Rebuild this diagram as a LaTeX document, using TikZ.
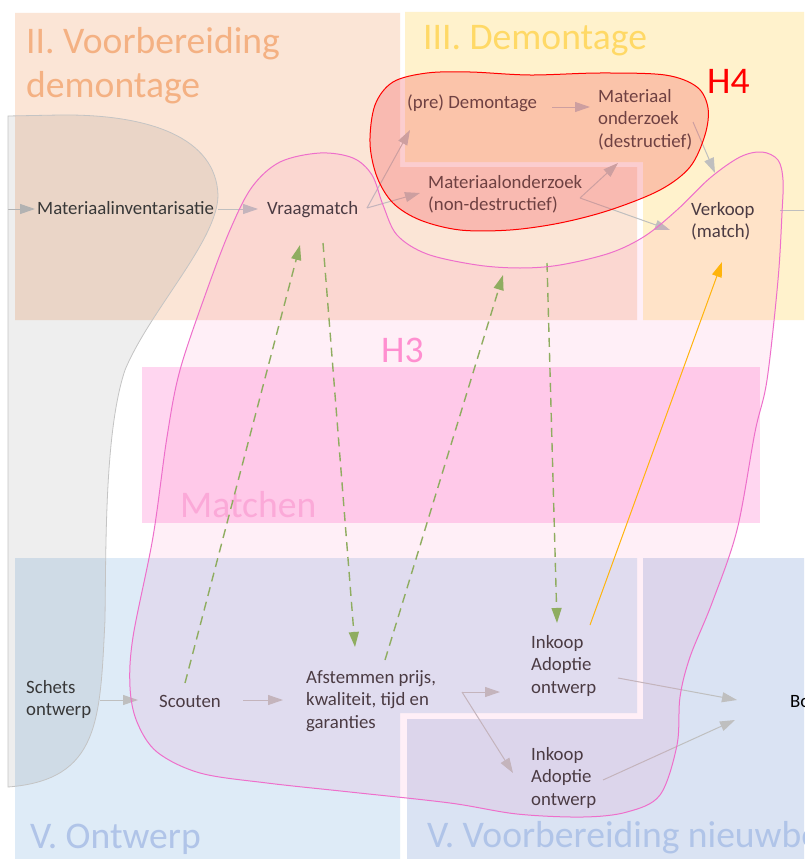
\documentclass[tikz,border=0pt]{standalone}
\usepackage{fontspec}
\setmainfont{Carlito}
\usetikzlibrary{arrows.meta}
\definecolor{regII}{HTML}{FBE5D6}
\definecolor{regIII}{HTML}{FFF2CC}
\definecolor{regVa}{HTML}{DEEBF7}
\definecolor{regVb}{HTML}{DAE3F3}
\definecolor{hII}{HTML}{F4B183}
\definecolor{hIII}{HTML}{FFD966}
\definecolor{hV}{HTML}{B0C4E8}
\definecolor{matchrect}{HTML}{FFD6F0}
\definecolor{matchtxt}{HTML}{FBB4DE}
\definecolor{hthree}{HTML}{FF8FD0}
\definecolor{txt}{HTML}{3C3C3C}
\definecolor{garrow}{HTML}{BFBFBF}
\definecolor{gdash}{HTML}{86B85C}
\definecolor{oarrow}{HTML}{FFC000}
\definecolor{pinkline}{HTML}{EE6FCB}
\definecolor{pinkfill}{HTML}{FF3399}
\definecolor{redfill}{RGB}{244,78,83}
\definecolor{greyline}{HTML}{C4C4C4}
\newcommand\myBody{\fontsize{18.8}{22.7}\selectfont}
\newcommand\myHead{\fontsize{37.6}{44}\selectfont}
\tikzset{
  lbl/.style={anchor=base west, inner sep=0pt, text=txt, font=\myBody, align=left},
  head/.style={anchor=base west, inner sep=0pt, font=\myHead, align=left},
  ga/.style={draw=garrow, line width=1pt, -{Triangle[length=15pt,width=10pt]}},
  gd/.style={draw=gdash, line width=1.4pt, dash pattern=on 9pt off 6pt, -{Triangle[length=15pt,width=10pt]}},
  oa/.style={draw=oarrow, line width=1pt, -{Triangle[length=15pt,width=10pt]}},
}
\begin{document}
\begin{tikzpicture}[x=1pt,y=-1pt]
\useasboundingbox (0,0) rectangle (804,859);
\clip (0,0) rectangle (804,859);
\fill[white] (0,0) rectangle (804,859);
% regions
\fill[regII] (15,13) -- (400,13) -- (400,167) -- (637,167) -- (637,320) -- (15,320) -- cycle;
\fill[regIII] (405,12) -- (804,12) -- (804,320) -- (643,320) -- (643,162) -- (405,162) -- cycle;
\fill[regVa] (15,558) -- (637,558) -- (637,713) -- (400,713) -- (400,859) -- (15,859) -- cycle;
\fill[regVb] (643,558) -- (804,558) -- (804,859) -- (407,859) -- (407,719) -- (643,719) -- cycle;
\fill[matchrect] (142,367) rectangle (760,523);
% headings
\node[head, text=hII] (hII) at (26,97) {II. Voorbereiding\\demontage};
\node[head, text=hIII] (hIII) at (423,49) {III. Demontage};
\node[head, text=hV] (hVa) at (30,848) {V. Ontwerp};
\node[head, text=hV] (hVb) at (427,847) {V. Voorbereiding nieuwbouw};
\node[head, text=matchtxt] (mt) at (180,517) {Matchen};
% text nodes (base = baseline of last line)
\node[lbl] (mi) at (37,214) {Materiaalinventarisatie};
\node[lbl] (vm) at (267,214) {Vraagmatch};
\node[lbl] (pd) at (407,108) {(pre) Demontage};
\node[lbl] (md) at (598,147.4) {Materiaal\\onderzoek\\(destructief)};
\node[lbl] (mn) at (428,210.7) {Materiaalonderzoek\\(non-destructief)};
\node[lbl] (vk) at (691,237.7) {Verkoop\\(match)};
\node[lbl] (so) at (26,715.7) {Schets\\ontwerp};
\node[lbl] (sc) at (159,707) {Scouten};
\node[lbl] (af) at (306,728.4) {Afstemmen prijs,\\kwaliteit, tijd en\\garanties};
\node[lbl] (ika) at (531,693.4) {Inkoop\\Adoptie\\ontwerp};
\node[lbl] (ikb) at (531,805.4) {Inkoop\\Adoptie\\ontwerp};
\node[lbl, text=black] (bo) at (790,707) {Bo};
\coordinate (inL) at (8,209);
\coordinate (outR) at (840,210);
% grey arrows
\draw[ga] (inL) -- ([shift={(-2,-5)}]mi.base west);
\draw[ga] ([shift={(181,-5)}]mi.base west) -- ([shift={(-9,-5)}]vm.base west);
\draw[ga] ([shift={(100,-6)}]vm.base west) -- ([shift={(3,22)}]pd.base west);
\draw[ga] ([shift={(100,-6)}]vm.base west) -- ([shift={(-8,-17.7)}]mn.base west);
\draw[ga] ([shift={(145,-1)}]pd.base west) -- ([shift={(-8,-40.4)}]md.base west);
\draw[ga] ([shift={(152,-12.7)}]mn.base west) -- ([shift={(20,15.6)}]md.base west);
\draw[ga] ([shift={(152,-12.7)}]mn.base west) -- ([shift={(-21,-7.7)}]vk.base west);
\draw[ga] ([shift={(95,-25.4)}]md.base west) -- ([shift={(24,-64.7)}]vk.base west);
\draw[ga] ([shift={(89,-27.7)}]vk.base west) -- (outR);
\draw[ga] ([shift={(74,-15.7)}]so.base west) -- ([shift={(-21,-7)}]sc.base west);
\draw[ga] ([shift={(84,-7)}]sc.base west) -- ([shift={(-23,-28.4)}]af.base west);
\draw[ga] ([shift={(156,-36.4)}]af.base west) -- ([shift={(-31,-1.4)}]ika.base west);
\draw[ga] ([shift={(156,-36.4)}]af.base west) -- ([shift={(-18,-32.4)}]ikb.base west);
\draw[ga] ([shift={(87,-15.4)}]ika.base west) -- ([shift={(-53,-7)}]bo.base west);
\draw[ga] ([shift={(72,-25.4)}]ikb.base west) -- ([shift={(-55,13)}]bo.base west);
% green dashed arrows
\draw[gd] ([shift={(26,-24)}]sc.base west) -- ([shift={(33,31)}]vm.base west);
\draw[gd] ([shift={(56,29)}]vm.base west) -- ([shift={(49,-81.4)}]af.base west);
\draw[gd] ([shift={(79,-68.4)}]af.base west) -- ([shift={(75,64.3)}]mn.base west);
\draw[gd] ([shift={(119,52.3)}]mn.base west) -- ([shift={(26,-70.4)}]ika.base west);
% orange arrow
\draw[oa] ([shift={(59,-68.4)}]ika.base west) -- ([shift={(31,24.3)}]vk.base west);
% grey blob
\path[draw=greyline, line width=0.8pt, fill=black, fill opacity=0.065]
  (8,787) -- (8,116) -- (60,115) .. controls (150,114) and (216,138) .. (218,195)
  .. controls (218,240) and (150,310) .. (125,370)
  .. controls (105,430) and (106,540) .. (105,620)
  .. controls (100,720) and (100,780) .. (8,787) -- cycle;
% pink blob (H3)
\path[draw=pinkline, line width=1pt, fill=pinkfill, fill opacity=0.08]
  plot[smooth cycle, tension=0.55] coordinates {
  (320,153) (353,158) (372,175) (383,205) (397,235) (427,254) (477,265) (520,268)
  (560,265) (610,253) (645,236) (677,210) (710,178) (740,157) (762,152) (778,160)
  (783,180) (782,213) (778,280) (767,380) (755,432) (737,530) (712,603) (690,657)
  (680,697) (677,745) (660,795) (627,812) (583,817) (517,814) (450,803) (350,792)
  (267,783) (200,773) (157,752) (137,722) (130,687) (133,637) (153,537) (167,437)
  (180,370) (207,290) (230,230) (252,187) (280,162)};
\node[head, text=hthree] (hthree) at (381,362) {H3};
% red blob (H4)
\path[draw=red, line width=1pt, fill=redfill, fill opacity=0.28]
  plot[smooth cycle, tension=0.55] coordinates {
  (470,72) (530,75) (600,73) (665,75) (697,87) (708,108) (705,135) (690,167)
  (660,190) (610,210) (560,223) (510,230) (460,230) (420,220) (393,203) (377,177)
  (370,143) (375,105) (393,82) (427,73)};
\node[head, text=red] (hfour) at (707,93) {H4};
\end{tikzpicture}
\end{document}
